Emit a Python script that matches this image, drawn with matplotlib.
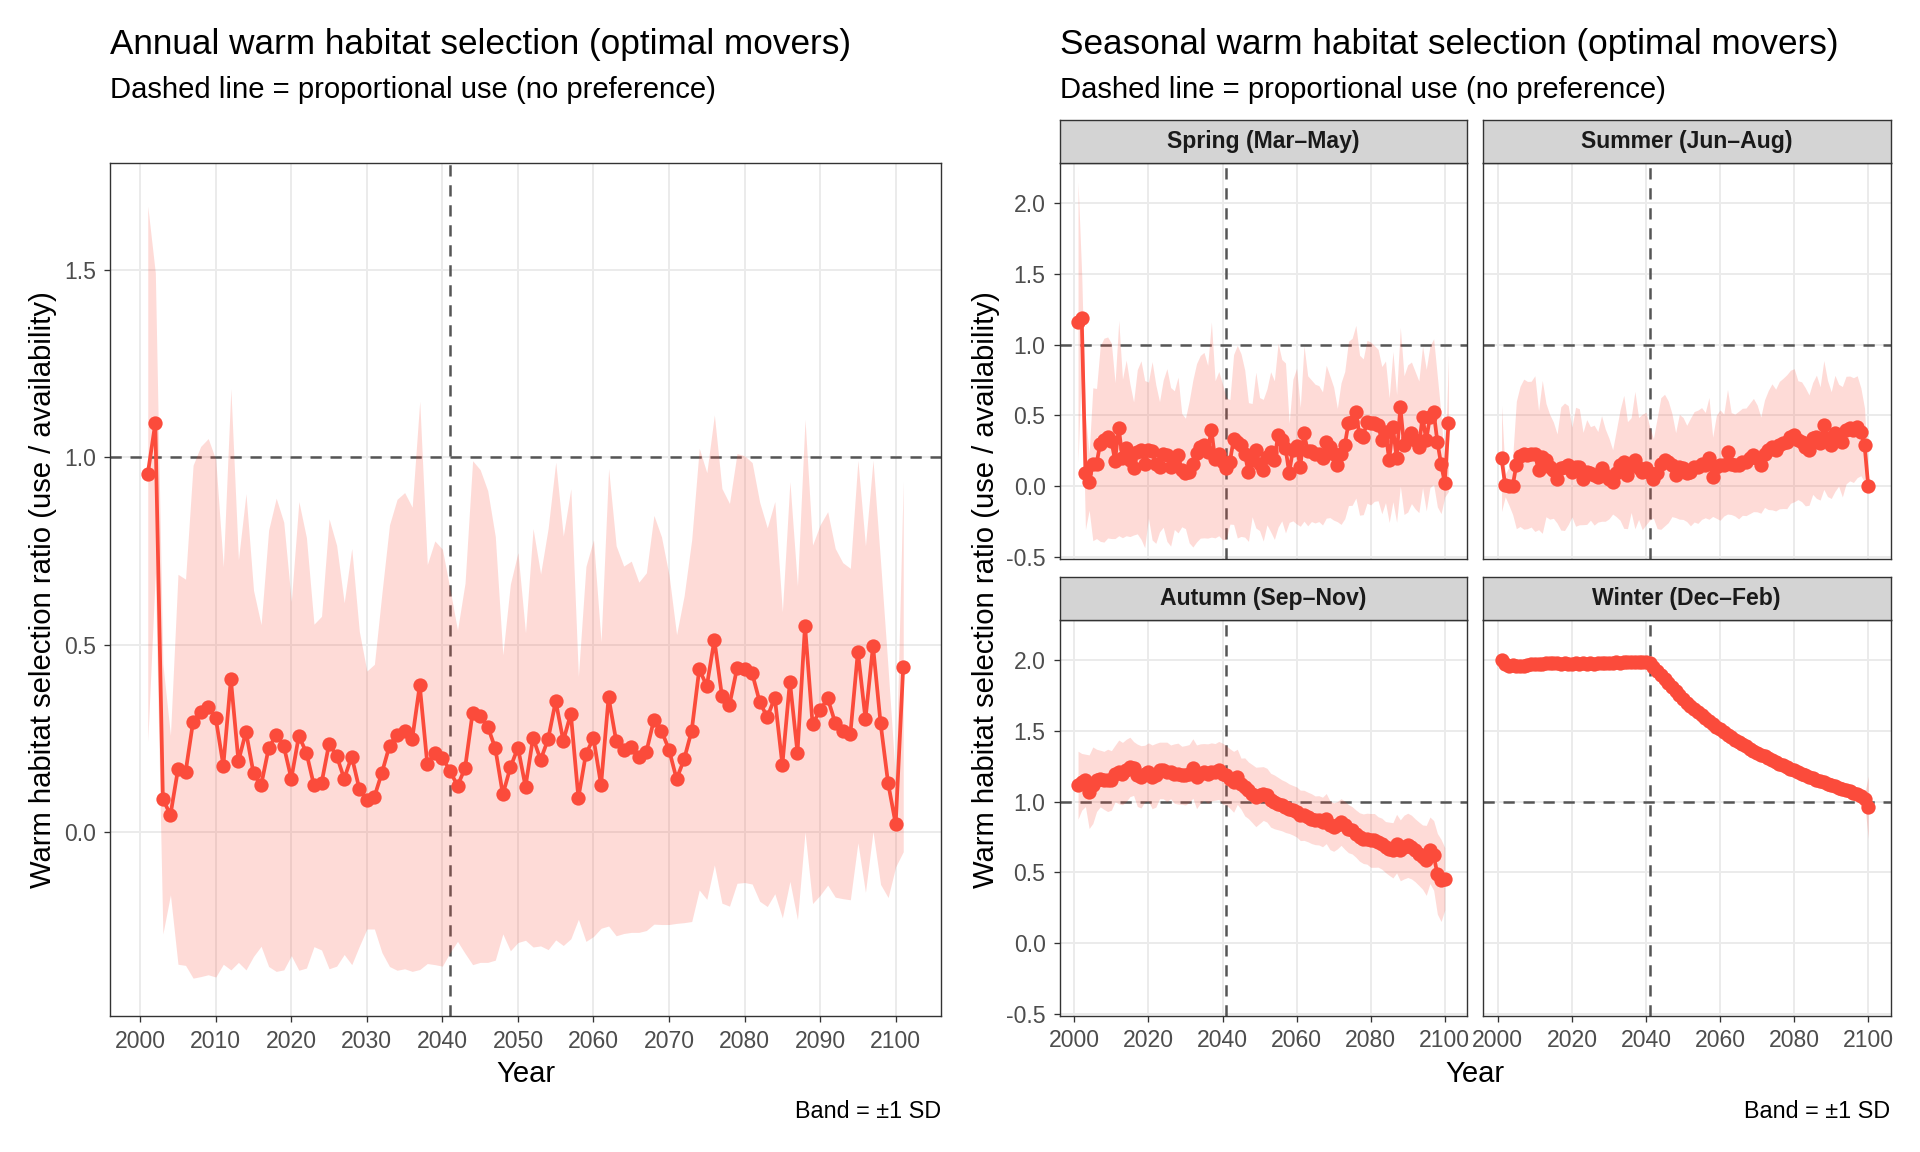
import numpy as np
import matplotlib
matplotlib.use("Agg")
import matplotlib.pyplot as plt

plt.rcParams['font.family'] = ['Liberation Sans', 'DejaVu Sans']
plt.rcParams['axes.unicode_minus'] = False

# ---- data ----
years = list(range(2001, 2102))          # annual + spring: 2001-2101
years_100 = list(range(2001, 2101))      # summer, autumn, winter: 2001-2100
split_year = 2041

annual_ratio = [
    0.956, 1.092, 0.089, 0.046, 0.168, 0.160, 0.295, 0.322, 0.335, 0.304,
    0.178, 0.408, 0.190, 0.268, 0.157, 0.125, 0.224, 0.260, 0.230, 0.143,
    0.257, 0.212, 0.125, 0.131, 0.236, 0.204, 0.143, 0.202, 0.116, 0.086,
    0.095, 0.159, 0.231, 0.260, 0.271, 0.248, 0.392, 0.182, 0.212, 0.199,
    0.164, 0.124, 0.171, 0.319, 0.310, 0.282, 0.224, 0.101, 0.173, 0.226,
    0.122, 0.252, 0.193, 0.249, 0.350, 0.244, 0.316, 0.092, 0.209, 0.251,
    0.126, 0.360, 0.244, 0.220, 0.228, 0.200, 0.215, 0.300, 0.271, 0.220,
    0.142, 0.195, 0.271, 0.435, 0.390, 0.513, 0.364, 0.340, 0.437, 0.435,
    0.424, 0.348, 0.307, 0.359, 0.180, 0.402, 0.212, 0.551, 0.288, 0.326,
    0.357, 0.292, 0.271, 0.262, 0.482, 0.302, 0.497, 0.291, 0.131, 0.022,
    0.442]
annual_sd = [
    0.714, 0.400, 0.360, 0.213, 0.520, 0.515, 0.684, 0.707, 0.715, 0.690,
    0.530, 0.775, 0.537, 0.635, 0.488, 0.429, 0.582, 0.631, 0.597, 0.472,
    0.625, 0.574, 0.430, 0.445, 0.600, 0.561, 0.469, 0.555, 0.420, 0.344,
    0.353, 0.480, 0.589, 0.628, 0.635, 0.619, 0.758, 0.532, 0.565, 0.556,
    0.485, 0.415, 0.494, 0.672, 0.657, 0.629, 0.565, 0.372, 0.489, 0.520,
    0.410, 0.558, 0.496, 0.562, 0.637, 0.546, 0.600, 0.324, 0.500, 0.529,
    0.382, 0.610, 0.520, 0.490, 0.495, 0.467, 0.477, 0.545, 0.517, 0.466,
    0.385, 0.436, 0.509, 0.589, 0.569, 0.600, 0.553, 0.537, 0.573, 0.569,
    0.562, 0.532, 0.505, 0.523, 0.408, 0.533, 0.445, 0.550, 0.478, 0.494,
    0.498, 0.465, 0.448, 0.442, 0.510, 0.462, 0.495, 0.430, 0.305, 0.114,
    0.494]

spring_ratio = [
    1.160, 1.190, 0.094, 0.030, 0.155, 0.160, 0.300, 0.325, 0.344, 0.320,
    0.180, 0.410, 0.196, 0.270, 0.184, 0.125, 0.243, 0.255, 0.156, 0.255,
    0.250, 0.156, 0.137, 0.230, 0.220, 0.137, 0.184, 0.220, 0.113, 0.090,
    0.100, 0.160, 0.236, 0.278, 0.290, 0.243, 0.400, 0.190, 0.230, 0.172,
    0.125, 0.172, 0.330, 0.314, 0.290, 0.230, 0.100, 0.184, 0.255, 0.156,
    0.113, 0.207, 0.243, 0.184, 0.360, 0.325, 0.270, 0.094, 0.255, 0.283,
    0.137, 0.373, 0.250, 0.250, 0.230, 0.230, 0.196, 0.314, 0.278, 0.230,
    0.149, 0.230, 0.290, 0.443, 0.455, 0.526, 0.360, 0.349, 0.455, 0.443,
    0.443, 0.432, 0.325, 0.384, 0.184, 0.420, 0.196, 0.561, 0.290, 0.337,
    0.377, 0.325, 0.278, 0.490, 0.325, 0.490, 0.526, 0.314, 0.156, 0.024,
    0.443]
spring_sd = [
    0.990, 0.300, 0.400, 0.200, 0.540, 0.530, 0.690, 0.720, 0.710, 0.690,
    0.550, 0.760, 0.560, 0.620, 0.540, 0.470, 0.580, 0.630, 0.590, 0.480,
    0.630, 0.560, 0.460, 0.520, 0.610, 0.560, 0.490, 0.550, 0.400, 0.390,
    0.500, 0.590, 0.630, 0.645, 0.655, 0.610, 0.760, 0.555, 0.580, 0.550,
    0.500, 0.440, 0.600, 0.680, 0.645, 0.590, 0.490, 0.400, 0.550, 0.470,
    0.500, 0.480, 0.565, 0.560, 0.650, 0.570, 0.600, 0.350, 0.500, 0.550,
    0.420, 0.620, 0.530, 0.500, 0.490, 0.480, 0.470, 0.540, 0.500, 0.470,
    0.400, 0.500, 0.520, 0.580, 0.590, 0.610, 0.565, 0.550, 0.575, 0.575,
    0.550, 0.535, 0.520, 0.500, 0.440, 0.530, 0.450, 0.560, 0.490, 0.520,
    0.500, 0.485, 0.465, 0.500, 0.500, 0.500, 0.515, 0.460, 0.350, 0.100,
    0.480]

summer_ratio = [
    0.196, 0.005, 0.000, 0.000, 0.150, 0.210, 0.226, 0.220, 0.226, 0.230,
    0.113, 0.207, 0.184, 0.137, 0.113, 0.054, 0.125, 0.137, 0.149, 0.100,
    0.137, 0.137, 0.054, 0.100, 0.090, 0.078, 0.066, 0.125, 0.078, 0.054,
    0.030, 0.090, 0.149, 0.172, 0.078, 0.149, 0.184, 0.125, 0.100, 0.125,
    0.090, 0.054, 0.090, 0.160, 0.184, 0.172, 0.149, 0.078, 0.137, 0.125,
    0.090, 0.100, 0.137, 0.137, 0.160, 0.149, 0.196, 0.066, 0.137, 0.149,
    0.149, 0.243, 0.160, 0.149, 0.149, 0.172, 0.172, 0.196, 0.220, 0.196,
    0.149, 0.230, 0.255, 0.278, 0.255, 0.290, 0.302, 0.314, 0.349, 0.360,
    0.325, 0.314, 0.278, 0.255, 0.337, 0.349, 0.302, 0.432, 0.337, 0.290,
    0.373, 0.360, 0.314, 0.396, 0.408, 0.396, 0.420, 0.384, 0.290, 0.000]
summer_sd = [
    0.375, 0.080, 0.135, 0.200, 0.450, 0.495, 0.530, 0.520, 0.515, 0.550,
    0.420, 0.540, 0.400, 0.370, 0.340, 0.315, 0.435, 0.450, 0.420, 0.317,
    0.420, 0.410, 0.326, 0.370, 0.330, 0.353, 0.320, 0.373, 0.326, 0.285,
    0.227, 0.306, 0.390, 0.470, 0.378, 0.335, 0.485, 0.360, 0.408, 0.397,
    0.330, 0.280, 0.390, 0.465, 0.465, 0.430, 0.364, 0.300, 0.370, 0.360,
    0.340, 0.380, 0.390, 0.400, 0.395, 0.372, 0.430, 0.280, 0.364, 0.390,
    0.360, 0.440, 0.360, 0.360, 0.380, 0.378, 0.380, 0.390, 0.400, 0.377,
    0.340, 0.380, 0.420, 0.445, 0.430, 0.450, 0.460, 0.473, 0.470, 0.470,
    0.420, 0.423, 0.417, 0.390, 0.395, 0.435, 0.400, 0.455, 0.410, 0.377,
    0.410, 0.360, 0.390, 0.380, 0.370, 0.370, 0.360, 0.310, 0.260, 0.000]

autumn_ratio = [
    1.116, 1.140, 1.150, 1.070, 1.116, 1.150, 1.163, 1.150, 1.150, 1.150,
    1.198, 1.210, 1.198, 1.220, 1.245, 1.234, 1.186, 1.175, 1.198, 1.210,
    1.175, 1.186, 1.220, 1.220, 1.210, 1.210, 1.198, 1.198, 1.186, 1.186,
    1.198, 1.234, 1.175, 1.198, 1.210, 1.198, 1.210, 1.210, 1.220, 1.198,
    1.186, 1.163, 1.140, 1.175, 1.127, 1.104, 1.080, 1.057, 1.033, 1.045,
    1.057, 1.045, 1.010, 0.998, 0.986, 0.974, 0.962, 0.950, 0.939, 0.927,
    0.903, 0.903, 0.892, 0.880, 0.868, 0.868, 0.856, 0.880, 0.833, 0.820,
    0.833, 0.856, 0.833, 0.809, 0.797, 0.774, 0.750, 0.738, 0.738, 0.726,
    0.726, 0.715, 0.703, 0.679, 0.667, 0.656, 0.703, 0.656, 0.679, 0.691,
    0.679, 0.656, 0.632, 0.608, 0.585, 0.656, 0.620, 0.490, 0.443, 0.455]
autumn_sd = [
    0.240, 0.200, 0.185, 0.260, 0.270, 0.220, 0.200, 0.205, 0.220, 0.210,
    0.200, 0.225, 0.220, 0.220, 0.210, 0.190, 0.220, 0.220, 0.200, 0.205,
    0.225, 0.225, 0.200, 0.200, 0.210, 0.190, 0.210, 0.215, 0.205, 0.210,
    0.205, 0.210, 0.225, 0.210, 0.200, 0.210, 0.205, 0.200, 0.205, 0.215,
    0.210, 0.210, 0.215, 0.195, 0.180, 0.205, 0.200, 0.205, 0.210, 0.200,
    0.190, 0.190, 0.190, 0.190, 0.185, 0.180, 0.180, 0.175, 0.175, 0.177,
    0.178, 0.177, 0.175, 0.176, 0.172, 0.174, 0.175, 0.177, 0.172, 0.171,
    0.167, 0.165, 0.170, 0.170, 0.167, 0.167, 0.171, 0.175, 0.180, 0.190,
    0.190, 0.178, 0.180, 0.180, 0.188, 0.195, 0.207, 0.215, 0.225, 0.227,
    0.225, 0.222, 0.224, 0.227, 0.247, 0.235, 0.246, 0.285, 0.290, 0.220]

winter_ratio = [
    2.000, 1.970, 1.960, 1.965, 1.960, 1.955, 1.960, 1.965, 1.970, 1.970,
    1.975, 1.975, 1.980, 1.980, 1.980, 1.980, 1.975, 1.980, 1.975, 1.975,
    1.980, 1.975, 1.980, 1.975, 1.980, 1.975, 1.980, 1.980, 1.980, 1.980,
    1.980, 1.985, 1.980, 1.985, 1.985, 1.985, 1.985, 1.985, 1.985, 1.985,
    1.976, 1.950, 1.925, 1.895, 1.865, 1.838, 1.810, 1.782, 1.754, 1.725,
    1.700, 1.676, 1.654, 1.632, 1.610, 1.588, 1.567, 1.546, 1.526, 1.510,
    1.489, 1.471, 1.453, 1.437, 1.421, 1.405, 1.390, 1.375, 1.360, 1.346,
    1.332, 1.319, 1.306, 1.293, 1.280, 1.268, 1.256, 1.244, 1.232, 1.220,
    1.209, 1.198, 1.188, 1.177, 1.166, 1.156, 1.146, 1.136, 1.126, 1.116,
    1.107, 1.098, 1.090, 1.081, 1.072, 1.063, 1.054, 1.042, 1.020, 0.960]
winter_sd = [
    0.020, 0.015, 0.015, 0.012, 0.012, 0.012, 0.010, 0.010, 0.010, 0.010,
    0.010, 0.010, 0.010, 0.010, 0.010, 0.010, 0.010, 0.010, 0.010, 0.010,
    0.010, 0.010, 0.010, 0.010, 0.010, 0.010, 0.010, 0.010, 0.010, 0.010,
    0.010, 0.010, 0.010, 0.010, 0.010, 0.010, 0.010, 0.010, 0.010, 0.010,
    0.010, 0.010, 0.010, 0.010, 0.010, 0.010, 0.010, 0.010, 0.010, 0.010,
    0.010, 0.010, 0.010, 0.010, 0.010, 0.010, 0.010, 0.010, 0.010, 0.010,
    0.010, 0.010, 0.010, 0.010, 0.010, 0.010, 0.010, 0.010, 0.010, 0.010,
    0.010, 0.010, 0.010, 0.010, 0.010, 0.010, 0.010, 0.010, 0.010, 0.010,
    0.010, 0.010, 0.010, 0.010, 0.010, 0.010, 0.010, 0.010, 0.010, 0.010,
    0.010, 0.010, 0.010, 0.012, 0.012, 0.015, 0.015, 0.020, 0.030, 0.220]

season_names = ["Spring (Mar\u2013May)", "Summer (Jun\u2013Aug)",
                "Autumn (Sep\u2013Nov)", "Winter (Dec\u2013Feb)"]

RED = "#FB4B3B"
DASH = "#555555"
W, H = 1920, 1152


def style_panel(ax, xlim, ylim, xticks, yticks, show_x, show_y):
    ax.set_xlim(*xlim)
    ax.set_ylim(*ylim)
    ax.set_xticks(xticks)
    ax.set_yticks(yticks)
    ax.set_yticklabels([f"{t:.1f}" for t in yticks])
    ax.grid(True, color="#EBEBEB", linewidth=1.4, zorder=0)
    ax.set_axisbelow(True)
    for s in ax.spines.values():
        s.set_color("#333333")
        s.set_linewidth(1.0)
        s.set_zorder(6)
    ax.tick_params(axis="both", colors="#333333", labelcolor="#4D4D4D",
                   labelsize=16.6, length=4, width=0.95, pad=6)
    if not show_x:
        ax.tick_params(axis="x", bottom=False, labelbottom=False)
    if not show_y:
        ax.tick_params(axis="y", left=False, labelleft=False)


def draw_series(ax, x, y, sd):
    x = np.asarray(x)
    y = np.asarray(y)
    sd = np.asarray(sd)
    ax.axhline(1.0, color=DASH, linewidth=1.8, linestyle=(0, (4.5, 3.5)), zorder=1.5)
    ax.axvline(split_year, color=DASH, linewidth=1.8, linestyle=(0, (4.5, 3.5)), zorder=1.5)
    ax.fill_between(x, y - sd, y + sd, color=RED, alpha=0.2, linewidth=0, zorder=2)
    ax.plot(x, y, color=RED, linewidth=2.7, zorder=3)
    ax.plot(x, y, "o", color=RED, markersize=10.3, markeredgewidth=0, zorder=4)


def add_strip(fig, rect, label):
    sax = fig.add_axes(rect)
    sax.set_facecolor("#D4D4D4")
    sax.set_xticks([])
    sax.set_yticks([])
    for s in sax.spines.values():
        s.set_color("#333333")
        s.set_linewidth(1.0)
    sax.text(0.5, 0.5, label, ha="center", va="center", fontsize=16.6,
             fontweight="bold", color="#1A1A1A", transform=sax.transAxes)


fig = plt.figure(figsize=(W / 100, H / 100), dpi=100)

# ---- annual panel ----
ax = fig.add_axes([110 / W, 1 - 1016 / H, 831 / W, 853 / H])
draw_series(ax, years, annual_ratio, annual_sd)
style_panel(ax, (1996, 2106), (-0.49, 1.785), list(range(2000, 2101, 10)),
            [0.0, 0.5, 1.0, 1.5], True, True)

fig.text(110 / W, 1 - 54 / H, "Annual warm habitat selection (optimal movers)",
         fontsize=25.3, ha="left", va="baseline")
fig.text(110 / W, 1 - 98.5 / H, "Dashed line = proportional use (no preference)",
         fontsize=21.1, ha="left", va="baseline")
fig.text(43 / W, 1 - 589.5 / H, "Warm habitat selection ratio (use / availability)",
         fontsize=21.1, rotation=90, ha="center", va="center")
fig.text(525.5 / W, 1 - 1081.5 / H, "Year", fontsize=21.1, ha="center", va="baseline")
fig.text(941 / W, 1 - 1118 / H, "Band = \u00b11 SD", fontsize=16.8, ha="right", va="baseline")

# ---- seasonal facets ----
pw, ph, sh = 407.5, 395.5, 43.5
lefts = [1059.5, 1483.0, 1059.5, 1483.0]
tops = [163.0, 163.0, 620.0, 620.0]
season_x = [years, years_100, years_100, years_100]
season_y = [spring_ratio, summer_ratio, autumn_ratio, winter_ratio]
season_sd = [spring_sd, summer_sd, autumn_sd, winter_sd]

for i in range(4):
    l, t = lefts[i], tops[i]
    sax = fig.add_axes([l / W, 1 - (t + ph) / H, pw / W, ph / H])
    draw_series(sax, season_x[i], season_y[i], season_sd[i])
    style_panel(sax, (1996, 2106), (-0.511, 2.283), list(range(2000, 2101, 20)),
                [-0.5, 0.0, 0.5, 1.0, 1.5, 2.0], i >= 2, i % 2 == 0)
    add_strip(fig, [l / W, 1 - t / H, pw / W, sh / H], season_names[i])

fig.text(1059.5 / W, 1 - 54 / H, "Seasonal warm habitat selection (optimal movers)",
         fontsize=25.3, ha="left", va="baseline")
fig.text(1059.5 / W, 1 - 98.5 / H, "Dashed line = proportional use (no preference)",
         fontsize=21.1, ha="left", va="baseline")
fig.text(986 / W, 1 - 589.5 / H, "Warm habitat selection ratio (use / availability)",
         fontsize=21.1, rotation=90, ha="center", va="center")
fig.text(1475 / W, 1 - 1081.5 / H, "Year", fontsize=21.1, ha="center", va="baseline")
fig.text(1890.5 / W, 1 - 1118 / H, "Band = \u00b11 SD", fontsize=16.8, ha="right", va="baseline")

fig.savefig("out.png", dpi=100, facecolor="white")
